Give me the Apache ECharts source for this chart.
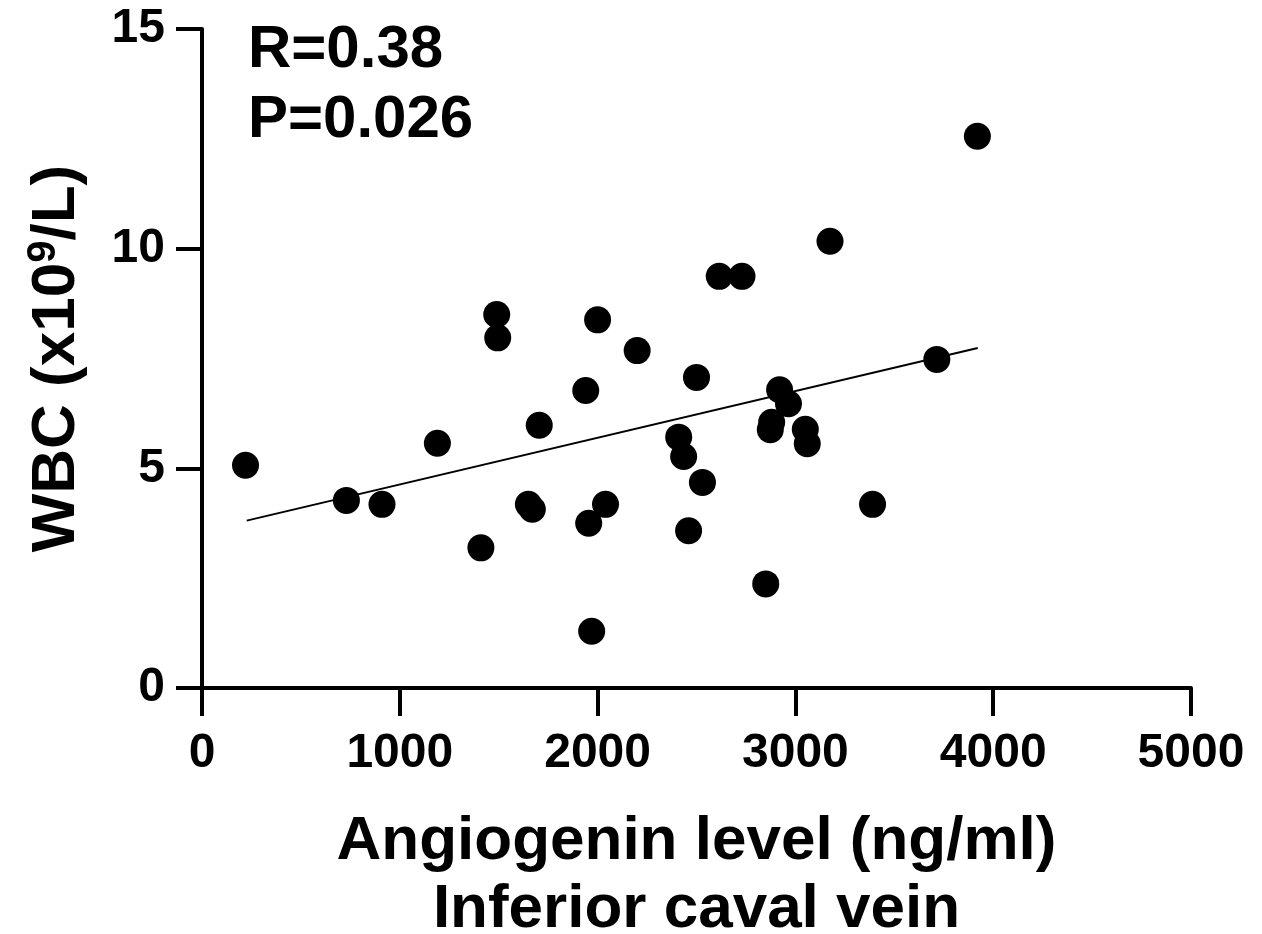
<!DOCTYPE html>
<html>
<head>
<meta charset="utf-8">
<script src="https://cdn.jsdelivr.net/npm/echarts@6/dist/echarts.min.js"></script>
<style>
  html, body { margin: 0; padding: 0; background: #fff; }
  #chart { width: 1262px; height: 934px; }
</style>
</head>
<body>
<div id="chart"></div>
<script>
// angiogenin (ng/ml) vs WBC (x10^9/L)
var angiogenin = [220, 730, 910, 1190, 1410, 1490, 1495, 1650, 1670, 1705,
                  1940, 1955, 1970, 2000, 2040, 2200, 2410, 2435, 2460, 2500,
                  2530, 2615, 2730, 2850, 2873, 2880, 2920, 2965, 3050, 3060,
                  3175, 3390, 3715, 3920];
var wbc = [5.07, 4.27, 4.18, 5.57, 3.19, 8.5, 7.97, 4.18, 4.07, 5.98,
           6.77, 3.75, 1.29, 8.38, 4.18, 7.68, 5.71, 5.27, 3.58, 7.07,
           4.68, 9.37, 9.37, 2.37, 5.88, 6.05, 6.79, 6.47, 5.89, 5.56,
           10.17, 4.18, 7.48, 12.56];
// regression line ends
var fitX = [226, 3922];
var fitY = [3.81, 7.74];
var xTicks = [0, 1000, 2000, 3000, 4000, 5000];
var yTicks = [0, 5, 10, 15];

var points = [];
for (let i = 0; i < angiogenin.length; i++) {
  points.push([angiogenin[i], wbc[i]]);
}
var fitLine = [];
for (let i = 0; i < fitX.length; i++) {
  fitLine.push([fitX[i], fitY[i]]);
}

var font = '"Liberation Sans", Arial, sans-serif';
var chart = echarts.init(document.getElementById('chart'));

var axisLineStyle = { color: '#000', width: 4 };

var option = {
  animation: false,
  grid: { left: 202, right: 71, top: 29, bottom: 246, containLabel: false, outerBoundsMode: 'none' },
  xAxis: {
    type: 'value',
    min: xTicks[0],
    max: xTicks[xTicks.length - 1],
    interval: 1000,
    splitLine: { show: false },
    axisLine: { lineStyle: axisLineStyle },
    axisTick: { length: 28, lineStyle: axisLineStyle },
    axisLabel: {
      color: '#000', fontSize: 48, fontWeight: 'bold', fontFamily: font, margin: 42,
      formatter: function (v) { return String(v); }
    },
    name: 'Angiogenin level (ng/ml)\nInferior caval vein',
    nameLocation: 'middle',
    nameGap: 120,
    nameTextStyle: { color: '#000', fontSize: 62, fontWeight: 'bold', fontFamily: font, lineHeight: 68 }
  },
  yAxis: {
    type: 'value',
    min: yTicks[0],
    max: yTicks[yTicks.length - 1],
    interval: 5,
    splitLine: { show: false },
    axisLine: { lineStyle: axisLineStyle },
    axisTick: { length: 26, lineStyle: axisLineStyle },
    axisLabel: {
      color: '#000', fontSize: 48, fontWeight: 'bold', fontFamily: font, margin: 37,
      formatter: function (v) { return String(v); }
    },
    name: '{a|WBC (x10}{s|9}{a|/L)}',
    nameLocation: 'middle',
    nameGap: 112,
    nameTextStyle: {
      rich: {
        a: { color: '#000', fontSize: 62, fontWeight: 'bold', fontFamily: font, lineHeight: 66 },
        s: { color: '#000', fontSize: 40, fontWeight: 'bold', fontFamily: font, verticalAlign: 'top', lineHeight: 40 }
      }
    }
  },
  graphic: [{
    type: 'text',
    left: 248,
    top: 15,
    style: {
      text: 'R=0.38\nP=0.026',
      fill: '#000',
      font: 'bold 60px ' + font,
      lineHeight: 70
    }
  }],
  series: [
    {
      type: 'line',
      data: fitLine,
      symbol: 'none',
      lineStyle: { color: '#000', width: 2 },
      z: 1
    },
    {
      type: 'scatter',
      data: points,
      symbol: 'circle',
      symbolSize: 27,
      itemStyle: { color: '#000', opacity: 1 },
      z: 2
    }
  ]
};

chart.setOption(option);
</script>
</body>
</html>
